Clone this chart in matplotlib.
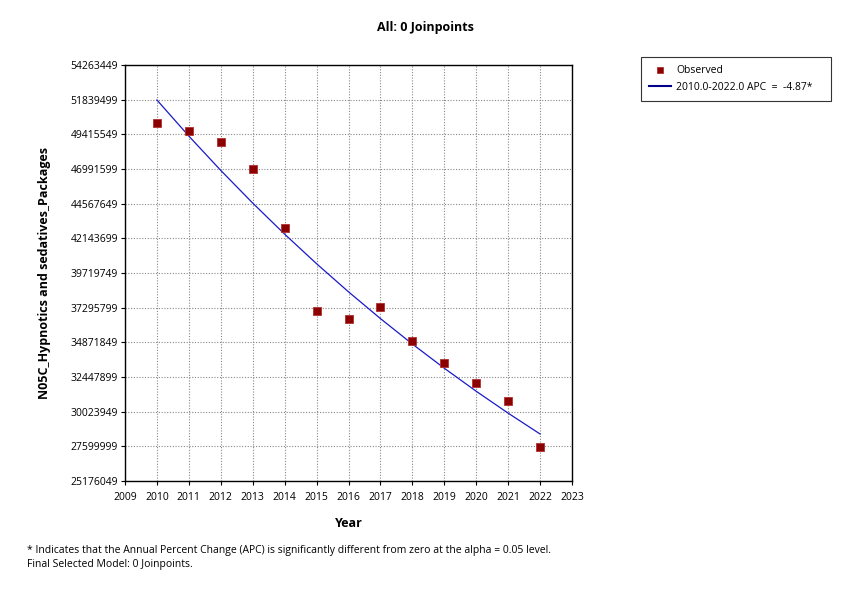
import matplotlib.pyplot as plt
import matplotlib.ticker as mt

plt.rcParams["font.family"] = ["Open Sans", "DejaVu Sans"]

years = [2010, 2011, 2012, 2013, 2014, 2015, 2016, 2017, 2018, 2019, 2020, 2021, 2022]
observed = [50190000, 49660000, 48870000, 46970000, 42870000, 37060000, 36470000,
            37360000, 34970000, 33450000, 32050000, 30770000, 27560000]
# modelled values, 2010.0-2022.0 segment (APC -4.87)
fitted = [51816000, 49293000, 46892000, 44609000, 42436000, 40369000, 38403000,
          36533000, 34754000, 33062000, 31451000, 29920000, 28463000]
y_ticks = [25176049, 27599999, 30023949, 32447899, 34871849, 37295799, 39719749,
           42143699, 44567649, 46991599, 49415549, 51839499, 54263449]
x_ticks = list(range(2009, 2024))

fig = plt.figure(figsize=(8.57, 6.04), dpi=100)
ax = fig.add_axes([125 / 857, 1 - 481 / 604, 447 / 857, 416 / 604])

ax.plot(years, fitted, color="#1a1ac8", lw=0.9, label="2010.0-2022.0 APC  =  -4.87*", zorder=3)
ax.plot(years, observed, "s", color="#8b0000", ms=5.2, mec="#b03030", mew=0.6,
        label="Observed", zorder=4)

ax.set_xlim(2009, 2023)
ax.set_ylim(y_ticks[0], y_ticks[-1])
ax.set_xticks(x_ticks)
ax.set_yticks(y_ticks)
ax.yaxis.set_major_formatter(mt.FuncFormatter(lambda v, p: f"{int(round(v))}"))
ax.tick_params(labelsize=7.5, length=3, width=0.8)
ax.tick_params(axis="x", pad=5)
ax.tick_params(axis="y", pad=2)
ax.grid(True, color="#888888", ls=(0, (1, 1.5)), lw=0.8)
for s in ax.spines.values():
    s.set_linewidth(1.0)

ax.set_xlabel("Year", fontsize=9, fontweight="bold", labelpad=10)
ax.set_ylabel("N05C_Hypnotics and sedatives_Packages", fontsize=9, fontweight="bold", labelpad=14)
fig.text(0.497, 1 - 27 / 604, "All: 0 Joinpoints", ha="center", va="center",
         fontsize=9, fontweight="bold")

h, l = ax.get_legend_handles_labels()
leg = fig.legend(h[::-1], l[::-1], loc="upper left",
                 bbox_to_anchor=(641 / 857, 1 - 100 / 604, 190 / 857, 43 / 604), mode="expand",
                 borderaxespad=0, fontsize=7.5, frameon=True, fancybox=False, edgecolor="black",
                 handlelength=2.1, handletextpad=0.5, borderpad=0.8, labelspacing=0.5,
                 markerscale=0.7)
leg.get_frame().set_linewidth(0.8)
leg.legend_handles[1].set_color("#00008b")
leg.legend_handles[1].set_linewidth(1.5)

fig.text(27 / 857, 1 - 551 / 604,
         "* Indicates that the Annual Percent Change (APC) is significantly different from zero at the alpha = 0.05 level.",
         fontsize=7.5, va="center")
fig.text(27 / 857, 1 - 565 / 604, "Final Selected Model: 0 Joinpoints.", fontsize=7.5, va="center")

fig.savefig("out.png", dpi=100)
